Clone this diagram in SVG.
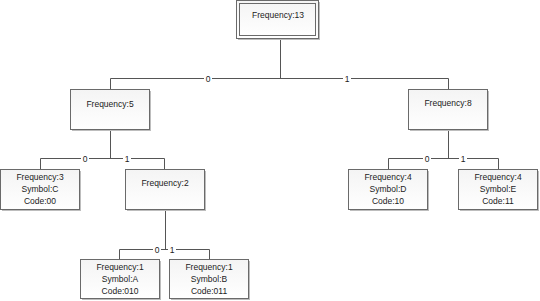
<svg xmlns="http://www.w3.org/2000/svg" width="540" height="301" viewBox="0 0 540 301">
<defs>
<linearGradient id="g" x1="0" y1="0" x2="0" y2="1"><stop offset="0" stop-color="#f4f4f4"/><stop offset="1" stop-color="#ffffff"/></linearGradient>
<style>
.b{fill:url(#g);stroke:#6a6a6a;stroke-width:1}
.s{fill:#bdbdbd}
.t{font-family:"Liberation Sans",Arial,sans-serif;font-size:8.5px;fill:#222;text-anchor:middle}
.c{fill:none;stroke:#555;stroke-width:1}
.l{font-family:"Liberation Sans",Arial,sans-serif;font-size:8.5px;fill:#222;text-anchor:middle}
.lb{fill:#fff}
</style>
</defs>
<rect width="540" height="301" fill="#fff"/>
<g id="connectors">
<path class="c" d="M280.5 39V78.5M110.5 78.5H448.5M110.5 78.5V89M448.5 78.5V89"/>
<path class="c" d="M110.5 129V158.5M40.5 158.5H164.5M40.5 158.5V169M164.5 158.5V169"/>
<path class="c" d="M448.5 129V158.5M388.5 158.5H498.5M388.5 158.5V169M498.5 158.5V169"/>
<path class="c" d="M165.5 209V249.5M119.5 249.5H209.5M119.5 249.5V259M209.5 249.5V259"/>
<rect class="lb" x="204" y="74" width="8" height="9"/><text class="l" x="208" y="81.5">0</text>
<rect class="lb" x="343" y="74" width="8" height="9"/><text class="l" x="347" y="81.5">1</text>
<rect class="lb" x="81" y="154" width="8" height="9"/><text class="l" x="85" y="161.5">0</text>
<rect class="lb" x="123" y="154" width="8" height="9"/><text class="l" x="127" y="161.5">1</text>
<rect class="lb" x="423" y="154" width="8" height="9"/><text class="l" x="427" y="161.5">0</text>
<rect class="lb" x="459" y="154" width="8" height="9"/><text class="l" x="463" y="161.5">1</text>
<rect class="lb" x="153" y="245" width="8" height="9"/><text class="l" x="157" y="252.5">0</text>
<rect class="lb" x="168" y="245" width="8" height="9"/><text class="l" x="172" y="252.5">1</text>
</g>
<g id="n13">
<rect class="s" x="238" y="2" width="82" height="38"/>
<rect class="b" x="236.5" y="0.5" width="82" height="38"/>
<rect fill="none" stroke="#6a6a6a" x="239.5" y="3.5" width="76" height="32"/>
<text class="t" x="278" y="18">Frequency:13</text>
</g>
<g id="n5">
<rect class="s" x="72" y="91" width="79" height="40"/>
<rect class="b" x="70.5" y="89.5" width="79" height="40"/>
<text class="t" x="110" y="107">Frequency:5</text>
</g>
<g id="n8">
<rect class="s" x="410" y="91" width="79" height="40"/>
<rect class="b" x="408.5" y="89.5" width="79" height="40"/>
<text class="t" x="448" y="106">Frequency:8</text>
</g>
<g id="n3">
<rect class="s" x="2" y="171" width="79" height="40"/>
<rect class="b" x="0.5" y="169.5" width="79" height="40"/>
<text class="t" x="40" y="180">Frequency:3</text>
<text class="t" x="40" y="192">Symbol:C</text>
<text class="t" x="40" y="204">Code:00</text>
</g>
<g id="n2">
<rect class="s" x="127" y="171" width="79" height="40"/>
<rect class="b" x="125.5" y="169.5" width="79" height="40"/>
<text class="t" x="165" y="186">Frequency:2</text>
</g>
<g id="nD">
<rect class="s" x="350" y="171" width="79" height="40"/>
<rect class="b" x="348.5" y="169.5" width="79" height="40"/>
<text class="t" x="388" y="180">Frequency:4</text>
<text class="t" x="388" y="192">Symbol:D</text>
<text class="t" x="388" y="204">Code:10</text>
</g>
<g id="nE">
<rect class="s" x="460" y="171" width="79" height="40"/>
<rect class="b" x="458.5" y="169.5" width="79" height="40"/>
<text class="t" x="498" y="180">Frequency:4</text>
<text class="t" x="498" y="192">Symbol:E</text>
<text class="t" x="498" y="204">Code:11</text>
</g>
<g id="nA">
<rect class="s" x="82" y="261" width="79" height="39"/>
<rect class="b" x="80.5" y="259.5" width="79" height="39"/>
<text class="t" x="120" y="270">Frequency:1</text>
<text class="t" x="120" y="282">Symbol:A</text>
<text class="t" x="120" y="294">Code:010</text>
</g>
<g id="nB">
<rect class="s" x="171" y="261" width="79" height="39"/>
<rect class="b" x="169.5" y="259.5" width="79" height="39"/>
<text class="t" x="209" y="270">Frequency:1</text>
<text class="t" x="209" y="282">Symbol:B</text>
<text class="t" x="209" y="294">Code:011</text>
</g>
</svg>
